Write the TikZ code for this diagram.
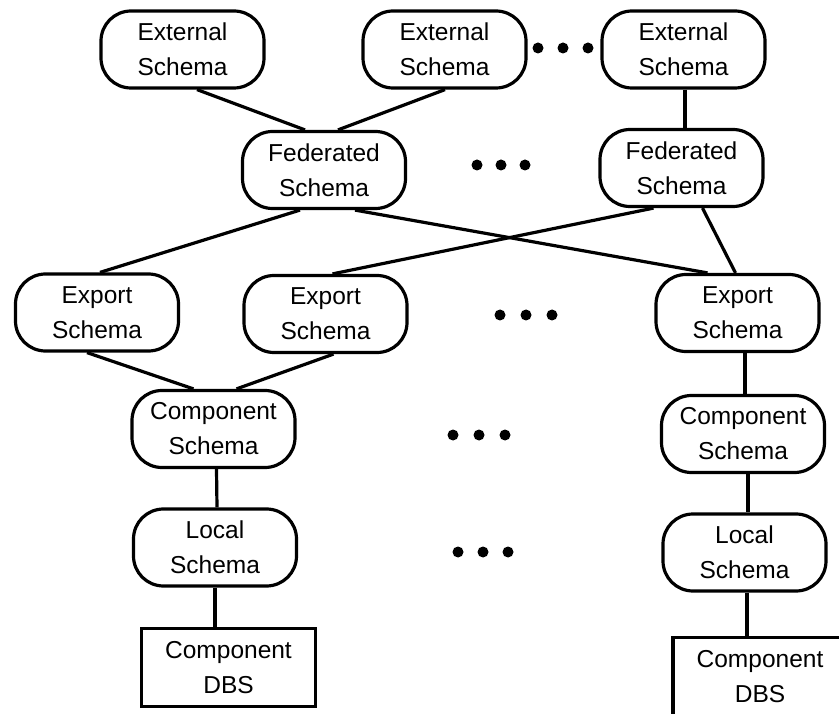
\documentclass[tikz,border=0pt]{standalone}
\usepackage{fontspec}
\setmainfont{Liberation Sans}
\begin{document}
\begin{tikzpicture}[x=1pt,y=-1pt,
  schemabox/.style={draw=black,line width=3.2pt,rounded corners=30pt,
    minimum width=163pt,minimum height=77pt,inner sep=0pt,align=center,
    font=\fontsize{24.5}{35}\selectfont},
  dbsbox/.style={draw=black,line width=3.2pt,
    minimum width=174pt,minimum height=78pt,inner sep=0pt,align=center,
    font=\fontsize{24.5}{35}\selectfont},
  link/.style={line width=3.2pt},
  dot/.style={fill=black}]
\useasboundingbox (0,0) rectangle (839,714);
\clip (0,0) rectangle (839,714);
% external schemas
\node[schemabox] (E1) at (182.5,49.5) {External\\Schema};
\node[schemabox] (E2) at (444.5,49.5) {External\\Schema};
\node[schemabox] (E3) at (683.5,49.5) {External\\Schema};
% federated schemas
\node[schemabox] (F1) at (324,170) {Federated\\Schema};
\node[schemabox] (F2) at (681.5,168) {Federated\\Schema};
% export schemas
\node[schemabox] (X1) at (97,312.5) {Export\\Schema};
\node[schemabox] (X2) at (325.5,314) {Export\\Schema};
\node[schemabox] (X3) at (737.5,313) {Export\\Schema};
% component schemas
\node[schemabox] (C1) at (213.5,429) {Component\\Schema};
\node[schemabox] (C2) at (743,434) {Component\\Schema};
% local schemas
\node[schemabox] (L1) at (215,547.5) {Local\\Schema};
\node[schemabox] (L2) at (744.5,552.5) {Local\\Schema};
% component DBS
\node[dbsbox] (D1) at (228.5,667.5) {Component\\DBS};
\node[dbsbox] (D2) at (760,676.5) {Component\\DBS};
% connectors
\draw[link] ([xshift=14.5]E1.south) -- ([xshift=-19]F1.north);
\draw[link] ([xshift=0.5]E2.south) -- ([xshift=14]F1.north);
\draw[link] ([xshift=1.5]E3.south) -- ([xshift=3.5]F2.north);
\draw[link] ([xshift=-24]F1.south) -- ([xshift=3]X1.north);
\draw[link] ([xshift=31]F1.south) -- ([xshift=-30]X3.north);
\draw[link] ([xshift=-28]F2.south) -- ([xshift=7]X2.north);
\draw[link] ([xshift=21]F2.south) -- ([xshift=-2]X3.north);
\draw[link] ([xshift=-10]X1.south) -- ([xshift=-20]C1.north);
\draw[link] ([xshift=8]X2.south) -- ([xshift=23]C1.north);
\draw[link] ([xshift=7.5]X3.south) -- ([xshift=2]C2.north);
\draw[link] ([xshift=3]C1.south) -- ([xshift=2]L1.north);
\draw[link] (L1.south) -- ([xshift=-13.5]D1.north);
\draw[link] ([xshift=5]C2.south) -- ([xshift=3.5]L2.north);
\draw[link] ([xshift=2.5]L2.south) -- ([xshift=-13]D2.north);
% ellipsis dots
\foreach \x in {538,563,588} \fill[dot] (\x,48) circle (5.5);
\foreach \x in {477,501,525} \fill[dot] (\x,165) circle (5.5);
\foreach \x in {500,526,552} \fill[dot] (\x,315) circle (5.5);
\foreach \x in {453,479,505} \fill[dot] (\x,435) circle (5.5);
\foreach \x in {458,483,508} \fill[dot] (\x,552) circle (5.5);
\end{tikzpicture}
\end{document}
